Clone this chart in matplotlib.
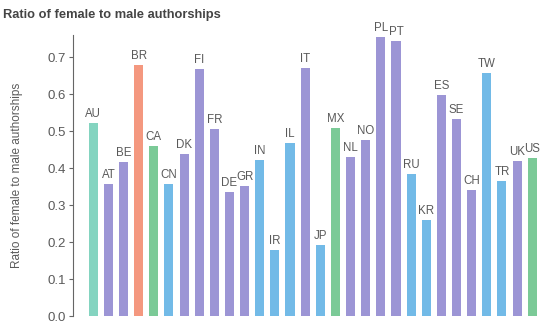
import matplotlib
matplotlib.use('Agg')
import matplotlib.pyplot as plt
import numpy as np

# countries in the order shown
countries = ['AU', 'AT', 'BE', 'BR', 'CA', 'CN', 'DK', 'FI', 'FR', 'DE', 'GR', 'IN', 'IR', 'IL',
             'IT', 'JP', 'MX', 'NL', 'NO', 'PL', 'PT', 'RU', 'KR', 'ES', 'SE', 'CH', 'TW', 'TR',
             'UK', 'US']
ratios = [0.522, 0.358, 0.417, 0.678, 0.459, 0.357, 0.438, 0.669, 0.505, 0.335, 0.351, 0.423,
          0.178, 0.468, 0.670, 0.192, 0.508, 0.431, 0.476, 0.755, 0.743, 0.384, 0.259, 0.598,
          0.534, 0.340, 0.656, 0.365, 0.419, 0.428]
regions = ['Oceania', 'Europe', 'Europe', 'South America', 'North America', 'Asia', 'Europe',
           'Europe', 'Europe', 'Europe', 'Europe', 'Asia', 'Asia', 'Asia', 'Europe', 'Asia',
           'North America', 'Europe', 'Europe', 'Europe', 'Europe', 'Asia', 'Asia', 'Europe',
           'Europe', 'Europe', 'Asia', 'Asia', 'Europe', 'North America']
region_colors = {'Oceania': '#84d4c0', 'Europe': '#9c95d5', 'South America': '#f4987f',
                 'North America': '#7bca97', 'Asia': '#72bae7'}
y_ticks = [0.0, 0.1, 0.2, 0.3, 0.4, 0.5, 0.6, 0.7]

plt.rcParams['font.family'] = ['Liberation Sans', 'DejaVu Sans']
grey = '#5a5a5a'

fig = plt.figure(figsize=(5.5, 3.3), dpi=100)
ax = fig.add_axes([0.133, 0.042, 0.858, 0.852])

x = np.arange(len(countries))
cols = [region_colors[r] for r in regions]
bars = ax.bar(x, ratios, width=0.6, color=cols)

# label on top of each bar
for xi, v, c in zip(x, ratios, countries):
    ax.text(xi, v + 0.008, c, ha='center', va='bottom', fontsize=8.3, color=grey)

ax.set_xlim(-1.33, 29.85)
ax.set_ylim(0, 0.76)
ax.set_yticks(y_ticks)
ax.set_yticklabels(['%.1f' % t for t in y_ticks])
ax.set_xticks([])
for s in ['top', 'right', 'bottom']:
    ax.spines[s].set_visible(False)
ax.spines['left'].set_color('#666666')
ax.spines['left'].set_linewidth(0.8)
ax.tick_params(axis='y', colors='#666666', labelcolor=grey, labelsize=9.5, length=3, width=0.8, pad=2)
ax.set_ylabel('Ratio of female to male authorships', fontsize=8.5, color=grey, labelpad=18)

fig.text(0.006, 0.955, 'Ratio of female to male authorships', fontsize=9.3, fontweight='bold',
         color='#444444', va='center')

fig.savefig('out.png', dpi=100)
